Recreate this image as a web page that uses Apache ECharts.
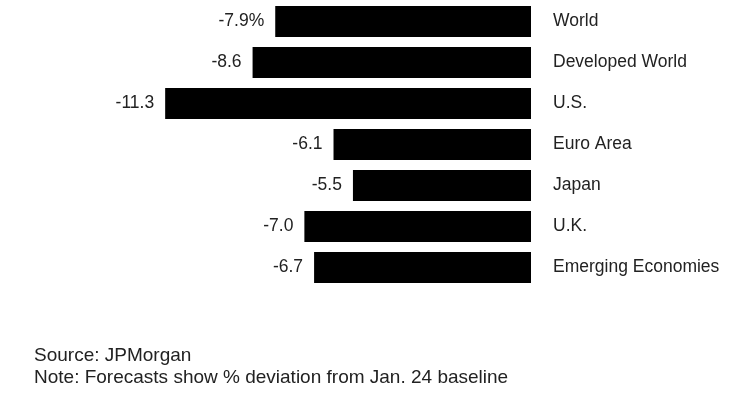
<!DOCTYPE html>
<html style="height: 100%">
<head>
    <meta charset="utf-8">
</head>
<body style="height: 100%; margin: 0; background: #fff">
<div id="container" style="width: 740px; height: 398px"></div>

<script type="text/javascript" src="https://cdn.jsdelivr.net/npm/echarts@6/dist/echarts.min.js"></script>
<script type="text/javascript">
    var regions = ['World', 'Developed World', 'U.S.', 'Euro Area', 'Japan', 'U.K.', 'Emerging Economies'];
    var deviation = [-7.9, -8.6, -11.3, -6.1, -5.5, -7.0, -6.7];
    var notes = ['Source: JPMorgan', 'Note: Forecasts show % deviation from Jan. 24 baseline'];

    var font = 'Liberation Sans, Arial, sans-serif';
    var myChart = echarts.init(document.getElementById('container'));

    var option = {
        animation: false,
        backgroundColor: '#fff',
        grid: { left: 13, right: 209, top: 1, bottom: 110 },
        xAxis: {
            type: 'value',
            min: -16,
            max: 0,
            show: false
        },
        yAxis: {
            type: 'category',
            data: regions,
            inverse: true,
            position: 'right',
            axisLine: { show: false },
            axisTick: { show: false },
            axisLabel: {
                margin: 22,
                align: 'left',
                color: '#222',
                fontSize: 17.5,
                fontFamily: font
            }
        },
        series: [{
            type: 'bar',
            data: deviation,
            barWidth: 31,
            itemStyle: { color: '#000' },
            label: {
                show: true,
                position: 'left',
                distance: 11,
                color: '#222',
                fontSize: 17.5,
                fontFamily: font,
                formatter: function (p) {
                    var s = p.value.toFixed(1);
                    return p.dataIndex === 0 ? s + '%' : s;
                }
            }
        }],
        graphic: [{
            type: 'text',
            left: 34,
            top: 345,
            style: {
                text: notes.join('\n'),
                fill: '#222',
                font: '19px ' + font,
                lineHeight: 22
            }
        }]
    };

    myChart.setOption(option);
</script>
</body>
</html>
